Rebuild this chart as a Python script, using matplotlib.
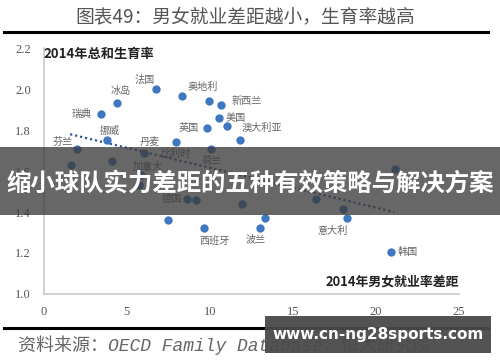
import numpy as np
import matplotlib
matplotlib.use("Agg")
import matplotlib.pyplot as plt
from matplotlib.patches import Rectangle

# data
countries = ["法国", "奥地利", "冰岛", "瑞典", "", "新西兰", "美国", "英国", "", "澳大利亚",
             "挪威", "芬兰", "比利时", "荷兰", "丹麦", "", "", "加拿大", "",
             "德国", "", "", "", "西班牙", "", "", "", "波兰", "意大利", "韩国"]
emp_gap = [6.75, 8.35, 4.45, 3.45, 9.95, 10.65, 10.55, 9.85, 11.05, 11.8,
           3.8, 2.0, 7.95, 10.05, 6.05, 1.65, 4.15, 5.85, 5.75,
           8.65, 9.2, 11.95, 7.5, 9.65, 21.15, 16.4, 18.0, 13.05, 18.25, 20.9]
fertility = [2.0, 1.965, 1.93, 1.88, 1.94, 1.92, 1.86, 1.81, 1.82, 1.75,
             1.75, 1.71, 1.74, 1.71, 1.69, 1.63, 1.65, 1.58, 1.53,
             1.465, 1.46, 1.44, 1.36, 1.32, 1.61, 1.465, 1.415, 1.32, 1.37, 1.205]
# extra visible dot next to Poland
extra_x = [13.35]
extra_y = [1.37]
trend_x = [1.6, 21.1]
trend_y = [1.78, 1.40]

x_ticks = [0, 5, 10, 15, 20, 25]
y_ticks = [1.0, 1.2, 1.4, 1.6, 1.8, 2.0, 2.2]

# label offsets in points
offsets = {
    "法国": (-8, 7), "奥地利": (15, 7), "冰岛": (2, 9), "瑞典": (-14, 0),
    "新西兰": (19, 3), "美国": (12, 0), "英国": (-13, 0), "澳大利亚": (16, 9),
    "挪威": (2, 7), "芬兰": (-10, 5), "比利时": (0, -8), "荷兰": (1, -9),
    "丹麦": (4, 8), "加拿大": (5, 6), "德国": (-11, 0), "西班牙": (8, -9),
    "波兰": (-3, -8), "意大利": (-10, -9), "韩国": (12, 0),
}

cjk = ["Noto Sans CJK SC", "DejaVu Sans"]
fig = plt.figure(figsize=(5, 3.62), dpi=100)
ax = fig.add_axes([0.087, 0.188, 0.831, 0.679])

blue = "#3f78c0"
ax.scatter(emp_gap, fertility, s=36, color=blue, zorder=3, linewidths=0)
ax.scatter(extra_x, extra_y, s=36, color=blue, zorder=3, linewidths=0)
ax.plot(trend_x, trend_y, color="#2f5597", linestyle=(0, (1, 1.3)), linewidth=1.6, zorder=2)

for name, x, y in zip(countries, emp_gap, fertility):
    if not name:
        continue
    dx, dy = offsets.get(name, (0, 8))
    ax.annotate(name, (x, y), xytext=(dx, dy), textcoords="offset points",
                ha="center", va="center", fontsize=7.3, color="#666666", family=cjk)

ax.set_xlim(0, 25)
ax.set_ylim(1.0, 2.2)
ax.set_xticks(x_ticks)
ax.set_yticks(y_ticks)
ax.set_xticklabels([str(v) for v in x_ticks], family="Liberation Serif", fontsize=9, color="#555555")
ax.set_yticklabels([f"{v:.1f}" for v in y_ticks], family="Liberation Serif", fontsize=9, color="#555555")
ax.tick_params(length=0, pad=9)
for s in ["top", "right"]:
    ax.spines[s].set_visible(False)
for s in ["left", "bottom"]:
    ax.spines[s].set_color("#c8c8c8")
    ax.spines[s].set_linewidth(1.2)

ax.text(0.0, 2.17, "2014年总和生育率", family=cjk, fontweight="bold", fontsize=9.5,
        color="#222222", va="center", ha="left")
ax.text(25, 1.06, "2014年男女就业率差距", family=cjk, fontweight="bold", fontsize=9.3,
        color="#222222", va="center", ha="right")

# title and rules
fig.text(0.49, 0.953, "图表49：男女就业差距越小，生育率越高", family=cjk, fontsize=13.5,
         color="#555555", ha="center", va="center")
fig.add_artist(plt.Line2D([0.008, 0.975], [0.912, 0.912], color="black", linewidth=2.2))
fig.add_artist(plt.Line2D([0.008, 0.975], [0.094, 0.094], color="black", linewidth=2.2))
fig.text(0.036, 0.047, "资料来源：OECD Family Database，恒大研究院",
         family=["Liberation Mono", "Noto Sans CJK SC"], style="italic", fontsize=13,
         color="#666666", ha="left", va="center")

# overlay banner
fig.add_artist(Rectangle((0, 0.406), 1, 0.188, transform=fig.transFigure,
                         facecolor="#3c3c3c", alpha=0.78, edgecolor="none", zorder=10))
fig.text(0.5, 0.494, "缩小球队实力差距的五种有效策略与解决方案", family=cjk, fontweight="bold",
         fontsize=17.6, color="white", ha="center", va="center", zorder=11)

# watermark box
fig.add_artist(Rectangle((0.53, 0.025), 0.452, 0.102, transform=fig.transFigure,
                         facecolor="#4a4a4a", alpha=0.95, edgecolor="none", zorder=10))
fig.text(0.756, 0.076, "www.cn-ng28sports.com", family="DejaVu Sans", fontweight="bold",
         fontsize=11, color="white", ha="center", va="center", zorder=11)

fig.savefig("out.png", dpi=100)
